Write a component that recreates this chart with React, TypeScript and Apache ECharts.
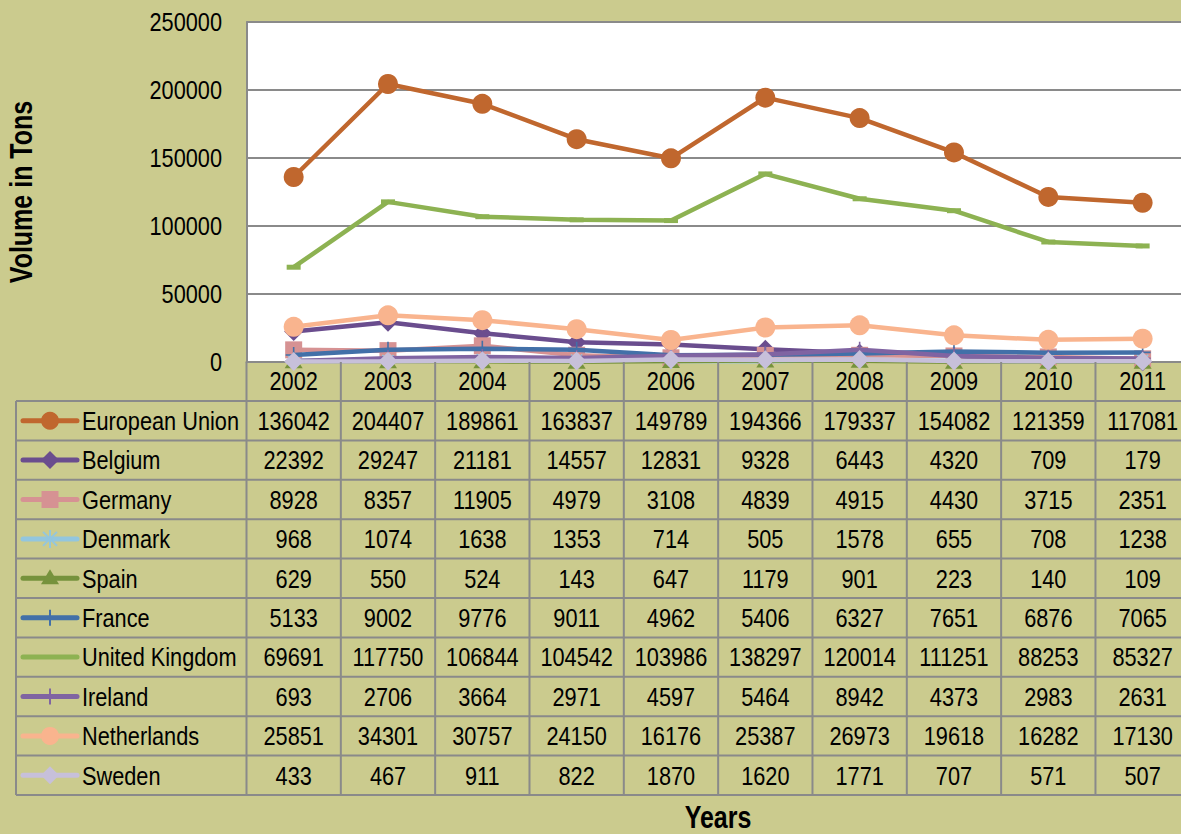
import React, { useEffect, useRef } from "react";
import * as echarts from "echarts";

const years = ["2002", "2003", "2004", "2005", "2006", "2007", "2008", "2009", "2010", "2011"];
const yTicks = [0, 50000, 100000, 150000, 200000, 250000];

const euValues = [136042, 204407, 189861, 163837, 149789, 194366, 179337, 154082, 121359, 117081];
const belgiumValues = [22392, 29247, 21181, 14557, 12831, 9328, 6443, 4320, 709, 179];
const germanyValues = [8928, 8357, 11905, 4979, 3108, 4839, 4915, 4430, 3715, 2351];
const denmarkValues = [968, 1074, 1638, 1353, 714, 505, 1578, 655, 708, 1238];
const spainValues = [629, 550, 524, 143, 647, 1179, 901, 223, 140, 109];
const franceValues = [5133, 9002, 9776, 9011, 4962, 5406, 6327, 7651, 6876, 7065];
const ukValues = [69691, 117750, 106844, 104542, 103986, 138297, 120014, 111251, 88253, 85327];
const irelandValues = [693, 2706, 3664, 2971, 4597, 5464, 8942, 4373, 2983, 2631];
const netherlandsValues = [25851, 34301, 30757, 24150, 16176, 25387, 26973, 19618, 16282, 17130];
const swedenValues = [433, 467, 911, 822, 1870, 1620, 1771, 707, 571, 507];

const seriesNames = [
  "European Union", "Belgium", "Germany", "Denmark", "Spain",
  "France", "United Kingdom", "Ireland", "Netherlands", "Sweden",
];
const seriesValues = [
  euValues, belgiumValues, germanyValues, denmarkValues, spainValues,
  franceValues, ukValues, irelandValues, netherlandsValues, swedenValues,
];

const colors = [
  "#C0672E", "#6A4D8E", "#D69293", "#93C6DE", "#76923C",
  "#4270A8", "#8DB252", "#8064A2", "#F9B48E", "#C7C0DA",
];
const markerKinds = [
  "circle", "diamond", "square", "asterisk", "triangle",
  "plus", "dash", "plus", "circle", "diamond",
];

const FONT = "'Liberation Sans', Arial, sans-serif";
const FS = 26.5;
const TITLE_FS = 30.5;
const SX = 0.82;
const BG = "#CBCB8E";
const LINE_GRAY = "#8A8A8A";

const CHART_W = 1192;
const CHART_H = 834;
const GRID_LEFT = 246.5;
const GRID_TOP = 22;
const GRID_H = 340;
const COL_W = 94.33;
const GRID_W = COL_W * years.length;
const HEADER_BOTTOM = 401;
const ROW_H = 39.4;
const TABLE_LEFT = 16;

const ASTERISK =
  "path://M-1,-10L1,-10L1,10L-1,10Z M-10,-1L10,-1L10,1L-10,1Z M-7.7,-6.3L-6.3,-7.7L7.7,6.3L6.3,7.7Z M6.3,-7.7L7.7,-6.3L-6.3,7.7L-7.7,6.3Z";
const PLUS = "path://M-1,-10L1,-10L1,10L-1,10Z M-10,-1L10,-1L10,1L-10,1Z";

function seriesSymbol(kind: string): { symbol: string; size: any } {
  switch (kind) {
    case "circle": return { symbol: "circle", size: 20 };
    case "diamond": return { symbol: "diamond", size: 19 };
    case "square": return { symbol: "rect", size: 17 };
    case "asterisk": return { symbol: ASTERISK, size: 16 };
    case "triangle": return { symbol: "triangle", size: [18, 14] };
    case "plus": return { symbol: PLUS, size: 16 };
    case "dash": return { symbol: "rect", size: [14, 5] };
    default: return { symbol: "none", size: 0 };
  }
}

function legendMarker(kind: string, cx: number, cy: number, color: string): any[] {
  switch (kind) {
    case "circle":
      return [{ type: "circle", shape: { cx, cy, r: 9 }, style: { fill: color } }];
    case "diamond":
      return [{ type: "polygon", shape: { points: [[cx, cy - 9], [cx + 9, cy], [cx, cy + 9], [cx - 9, cy]] }, style: { fill: color } }];
    case "square":
      return [{ type: "rect", shape: { x: cx - 8.5, y: cy - 8.5, width: 17, height: 17 }, style: { fill: color } }];
    case "triangle":
      return [{ type: "polygon", shape: { points: [[cx, cy - 9], [cx + 9, cy + 6], [cx - 9, cy + 6]] }, style: { fill: color } }];
    case "asterisk":
      return [
        { type: "line", shape: { x1: cx, y1: cy - 9, x2: cx, y2: cy + 9 }, style: { stroke: color, lineWidth: 2 } },
        { type: "line", shape: { x1: cx - 7, y1: cy - 7, x2: cx + 7, y2: cy + 7 }, style: { stroke: color, lineWidth: 2 } },
        { type: "line", shape: { x1: cx + 7, y1: cy - 7, x2: cx - 7, y2: cy + 7 }, style: { stroke: color, lineWidth: 2 } },
      ];
    case "plus":
      return [{ type: "line", shape: { x1: cx, y1: cy - 8, x2: cx, y2: cy + 8 }, style: { stroke: color, lineWidth: 2 } }];
    default:
      return [];
  }
}

function txt(text: string, x: number, y: number, align: string, size: number, bold = false, rotation = 0): any {
  return {
    type: "text", z: 12, x, y, scaleX: SX, rotation,
    style: {
      text, fill: "#000",
      font: `${bold ? "bold " : ""}${size}px ${FONT}`,
      textAlign: align, textVerticalAlign: "middle",
    },
  };
}

function buildGraphic(chart: any): any[] {
  const els: any[] = [];
  const right = GRID_LEFT + GRID_W;
  const tableBottom = HEADER_BOTTOM + ROW_H * seriesNames.length;
  const colX = years.map((_, i) => chart.convertToPixel({ xAxisIndex: 0 }, i) as number);
  for (let r = 0; r <= seriesNames.length; r++) {
    const y = HEADER_BOTTOM + r * ROW_H;
    els.push({ type: "line", z: 10, shape: { x1: TABLE_LEFT, y1: y, x2: right, y2: y }, style: { stroke: LINE_GRAY, lineWidth: 2 } });
  }
  els.push({ type: "line", z: 10, shape: { x1: TABLE_LEFT, y1: HEADER_BOTTOM, x2: TABLE_LEFT, y2: tableBottom }, style: { stroke: LINE_GRAY, lineWidth: 2 } });
  for (let k = 0; k <= years.length; k++) {
    const x = GRID_LEFT + k * COL_W;
    els.push({ type: "line", z: 10, shape: { x1: x, y1: GRID_TOP + GRID_H, x2: x, y2: tableBottom }, style: { stroke: LINE_GRAY, lineWidth: 2 } });
  }
  years.forEach((yr, i) => els.push(txt(yr, colX[i], 381, "center", FS)));
  yTicks.forEach((v) => {
    const y = chart.convertToPixel({ yAxisIndex: 0 }, v) as number;
    els.push(txt(String(v), 222, y, "right", FS));
  });
  seriesNames.forEach((name, r) => {
    const cy = HEADER_BOTTOM + (r + 0.5) * ROW_H;
    const color = colors[r];
    els.push({ type: "line", z: 11, shape: { x1: 23, y1: cy, x2: 77, y2: cy }, style: { stroke: color, lineWidth: 5, lineCap: "round" } });
    legendMarker(markerKinds[r], 50, cy, color).forEach((m) => { m.z = 12; els.push(m); });
    els.push(txt(name, 82, cy, "left", FS));
    seriesValues[r].forEach((v, i) => els.push(txt(String(v), colX[i], cy, "center", FS)));
  });
  els.push(txt("Years", 718, 818, "center", TITLE_FS, true));
  els.push(txt("Volume in Tons", 22, GRID_TOP + GRID_H / 2, "center", TITLE_FS, true, Math.PI / 2));
  return els;
}

export default function App() {
  const ref = useRef<HTMLDivElement>(null);
  useEffect(() => {
    if (!ref.current) return;
    const chart = echarts.init(ref.current, null, { renderer: "svg" });
    chart.setOption({
      animation: false,
      backgroundColor: BG,
      textStyle: { fontFamily: FONT },
      grid: {
        left: GRID_LEFT, top: GRID_TOP, width: GRID_W, height: GRID_H,
        show: true, backgroundColor: "#FFFFFF", borderWidth: 0, containLabel: false,
      },
      xAxis: {
        type: "category",
        data: years,
        boundaryGap: true,
        axisLine: { show: true, lineStyle: { color: LINE_GRAY, width: 2 } },
        axisTick: { show: false },
        axisLabel: { show: false },
        splitLine: { show: false },
      },
      yAxis: {
        type: "value",
        min: yTicks[0],
        max: yTicks[yTicks.length - 1],
        interval: 50000,
        axisLine: { show: true, lineStyle: { color: LINE_GRAY, width: 2 } },
        axisTick: { show: false },
        axisLabel: { show: false },
        splitLine: { show: true, lineStyle: { color: LINE_GRAY, width: 2 } },
      },
      series: seriesNames.map((name, r) => {
        const s = seriesSymbol(markerKinds[r]);
        return {
          name,
          type: "line",
          data: seriesValues[r],
          symbol: s.symbol,
          symbolSize: s.size,
          showSymbol: true,
          showAllSymbol: true,
          lineStyle: { color: colors[r], width: 4.5 },
          itemStyle: { color: colors[r], borderWidth: 0 },
          emphasis: { disabled: true },
          z: 2 + r * 0.01,
        };
      }),
    });
    chart.setOption({ graphic: buildGraphic(chart) });
    return () => chart.dispose();
  }, []);
  return (
    <div style={{ position: "absolute", left: 0, top: 0, width: 1181, height: 834, overflow: "hidden", background: BG }}>
      <div ref={ref} style={{ width: CHART_W, height: CHART_H }} />
    </div>
  );
}
